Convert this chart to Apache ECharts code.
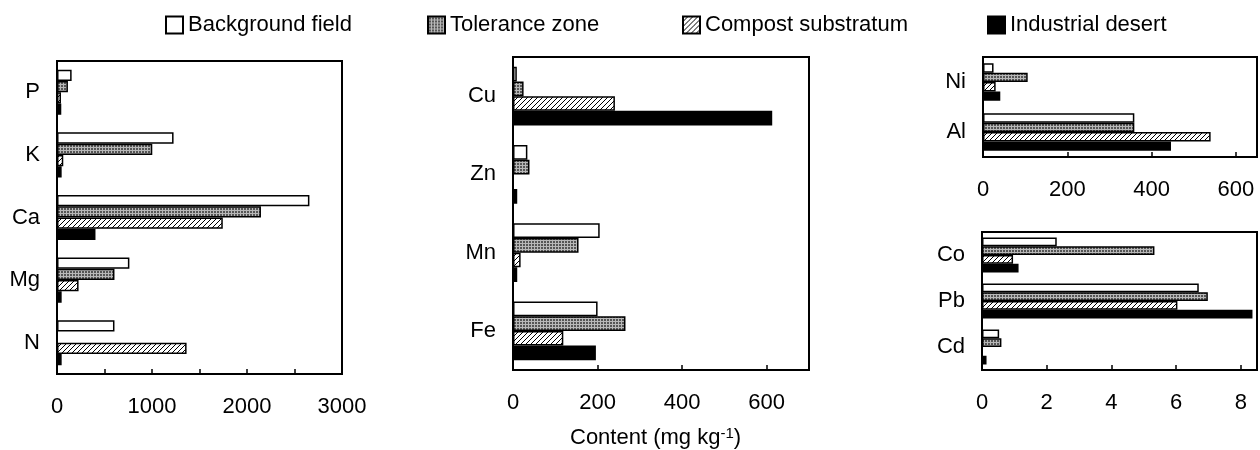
<!DOCTYPE html>
<html><head><meta charset="utf-8">
<script src="https://cdn.jsdelivr.net/npm/echarts@6/dist/echarts.min.js"></script>
<style>html,body{margin:0;padding:0;background:#fff}#c{width:1260px;height:450px}</style>
</head><body><div id="c"></div>
<script>
// ---- data ----
const seriesNames = ['Background field', 'Tolerance zone', 'Compost substratum', 'Industrial desert'];

const cats1 = ['P', 'K', 'Ca', 'Mg', 'N'];
const bg1   = [154, 1227, 2657, 762, 605];
const tol1  = [115, 1003, 2147, 605, null];
const comp1 = [42, 66, 1745, 227, 1364];
const ind1  = [45, 49, 405, 49, 49];
const ticks1 = [0, 1000, 2000, 3000];

const cats2 = ['Cu', 'Zn', 'Mn', 'Fe'];
const bg2   = [9, 34, 205, 200];
const tol2  = [25, 39, 155, 266];
const comp2 = [241, null, 18, 119];
const ind2  = [613, 10, 10, 196];
const ticks2 = [0, 200, 400, 600];

const cats3 = ['Ni', 'Al'];
const bg3   = [25, 359];
const tol3  = [106, 359];
const comp3 = [30, 540];
const ind3  = [41, 446];
const ticks3 = [0, 200, 400, 600];

const cats4 = ['Co', 'Pb', 'Cd'];
const bg4   = [2.31, 6.70, 0.53];
const tol4  = [5.33, 6.98, 0.60];
const comp4 = [0.96, 6.04, null];
const ind4  = [1.13, 8.36, 0.14];
const ticks4 = [0, 2, 4, 6, 8];

// ---- patterns ----
function gridPattern() {
  const c = document.createElement('canvas'); c.width = 3; c.height = 3;
  const g = c.getContext('2d');
  g.fillStyle = '#555555'; g.fillRect(0, 0, 3, 3);
  g.fillStyle = '#b8b8b8'; g.fillRect(0, 0, 3, 1); g.fillRect(0, 0, 1, 3);
  return c;
}
function hatchPattern() {
  const c = document.createElement('canvas'); c.width = 5; c.height = 5;
  const g = c.getContext('2d');
  g.fillStyle = '#fff'; g.fillRect(0, 0, 5, 5);
  g.strokeStyle = '#000'; g.lineWidth = 1;
  g.beginPath();
  g.moveTo(0, 5); g.lineTo(5, 0);
  g.moveTo(-1, 1); g.lineTo(1, -1);
  g.moveTo(4, 6); g.lineTo(6, 4);
  g.stroke();
  return c;
}
const fills = ['#ffffff', { image: gridPattern(), repeat: 'repeat' }, { image: hatchPattern(), repeat: 'repeat' }, '#000000'];

const FONT = 'Liberation Sans, Arial, sans-serif';
const FS = 22;

const grids = [
  { left: 57, top: 61, width: 285, height: 313 },
  { left: 513, top: 57, width: 296, height: 313 },
  { left: 983, top: 57, width: 275, height: 100 },
  { left: 982, top: 232, width: 277, height: 138 }
].map(g => Object.assign({ show: true, borderColor: '#000', borderWidth: 2, backgroundColor: 'transparent' }, g));

const panels = [
  { cats: cats1, data: [bg1, tol1, comp1, ind1], max: 3000, interval: 500, ticks: ticks1, gap: '28%' },
  { cats: cats2, data: [bg2, tol2, comp2, ind2], max: 700, interval: 200, ticks: ticks2, gap: '25%' },
  { cats: cats3, data: [bg3, tol3, comp3, ind3], max: 650, interval: 200, ticks: ticks3, gap: '25%' },
  { cats: cats4, data: [bg4, tol4, comp4, ind4], max: 8.5, interval: 2, ticks: ticks4, gap: '24%' }
];

const xAxis = [], yAxis = [], series = [];
panels.forEach((p, i) => {
  xAxis.push({
    type: 'value', gridIndex: i, min: 0, max: p.max, interval: p.interval,
    splitLine: { show: false },
    axisLine: { show: true, lineStyle: { color: '#000', width: 2 } },
    axisTick: { show: true, inside: true, length: 5, lineStyle: { color: '#000', width: 1.5 } },
    axisLabel: {
      margin: 22, color: '#000', fontSize: FS, fontFamily: FONT,
      showMaxLabel: true,
      formatter: v => (p.ticks.some(t => Math.abs(t - v) < 1e-9) ? String(v) : '')
    }
  });
  yAxis.push({
    type: 'category', gridIndex: i, data: p.cats, inverse: true,
    axisLine: { show: true, lineStyle: { color: '#000', width: 2 } },
    axisTick: { show: false },
    axisLabel: { margin: 17, color: '#000', fontSize: FS, fontFamily: FONT }
  });
  p.data.forEach((d, k) => {
    series.push({
      type: 'bar', name: seriesNames[k], xAxisIndex: i, yAxisIndex: i,
      data: d, barGap: '0%', barCategoryGap: p.gap,
      itemStyle: { color: fills[k], borderColor: '#000', borderWidth: 1.5 },
      emphasis: { disabled: true }, animation: false
    });
  });
});

const legendLefts = [165, 427, 682, 987];
const legend = seriesNames.map((n, k) => ({
  data: [{ name: n, icon: 'rect' }], left: legendLefts[k], top: 14, padding: 0,
  itemWidth: 17, itemHeight: 17, itemGap: 0,
  textStyle: { color: '#000', fontSize: 22, fontFamily: FONT },
  selectedMode: false
}));

const chart = echarts.init(document.getElementById('c'), null, { renderer: 'canvas' });
chart.setOption({
  animation: false,
  backgroundColor: '#fff',
  grid: grids, xAxis, yAxis, series, legend,
  graphic: [{
    type: 'text', left: 570, top: 426,
    style: {
      text: '{a|Content (mg kg}{s|-1}{a|)}',
      rich: {
        a: { fontSize: 22, fontFamily: FONT, fill: '#000' },
        s: { fontSize: 15, fontFamily: FONT, fill: '#000', verticalAlign: 'top', padding: [0, 0, 9, 0] }
      }
    }
  }]
});
</script></body></html>
